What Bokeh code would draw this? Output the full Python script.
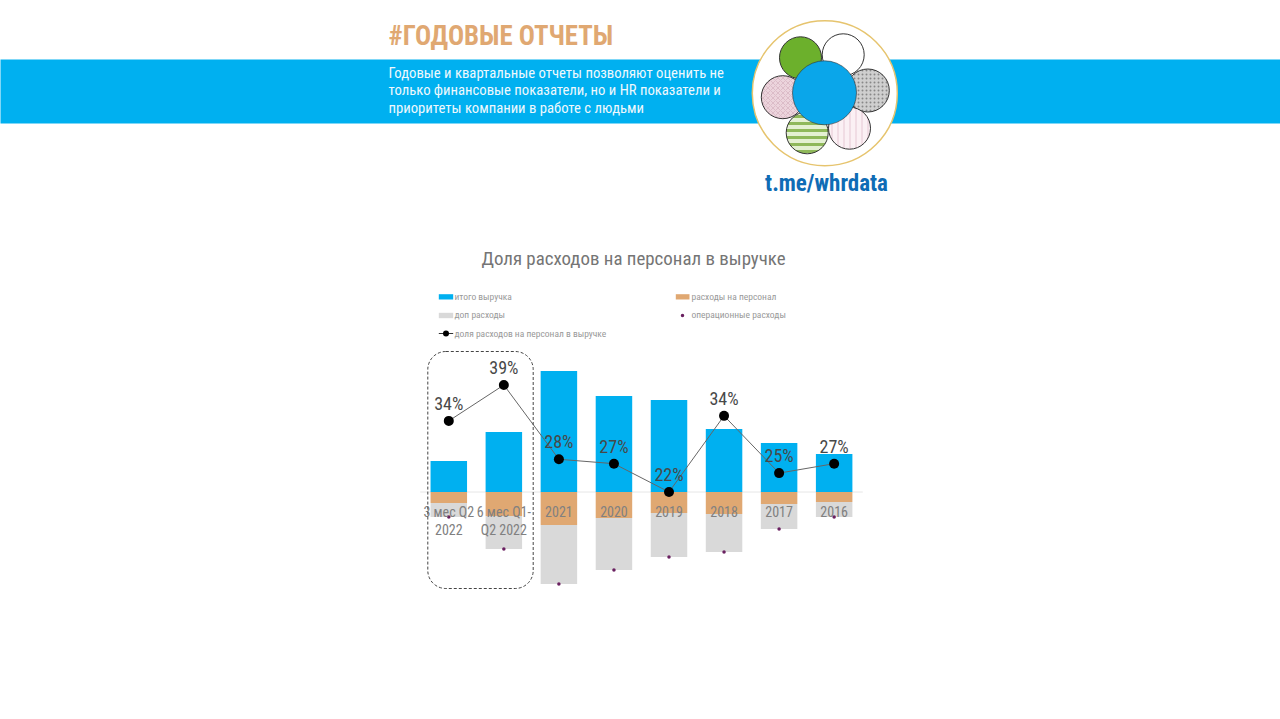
from bokeh.embed import file_html
from bokeh.models import BoxAnnotation, ColumnDataSource, Label, Range1d
from bokeh.plotting import figure
from bokeh.resources import INLINE

categories = ["3 мес Q2\n2022", "6 мес Q1-\nQ2 2022", "2021", "2020", "2019", "2018", "2017", "2016"]
revenue = [31, 60, 121, 96, 92, 63, 49, 38]
personnel = [11, 24, 33, 26, 21, 22, 12, 10]
operating = [25, 57, 92, 78, 65, 60, 37, 25]
share = [33.3, 39, 27.2, 26.5, 22, 34.1, 25, 26.5]
share_labels = ["34%", "39%", "28%", "27%", "22%", "34%", "25%", "27%"]

BLUE = "#00b0f0"
ORANGE = "#e0a872"
GRAY = "#d9d9d9"
PURPLE = "#6a2060"
NARROW = "Roboto Condensed"

W, H = 1280, 719
CX0, STEP = 448.3, 55.05  # reference pixel of first category and spacing
ZERO = 491.5              # reference pixel of the zero line
PCT_PX = 6.294            # pixels per percentage point
PCT0 = 22

p = figure(width=W, height=H, output_backend="svg", toolbar_location=None,
           x_range=Range1d(0, W), y_range=Range1d(H, 0),
           min_border=0, outline_line_color=None, background_fill_color="white",
           border_fill_color="white")
p.xaxis.visible = False
p.yaxis.visible = False
p.grid.visible = False

p.extra_x_ranges = {"cx": Range1d(-CX0 / STEP, (W - CX0) / STEP)}
p.extra_y_ranges = {
    "cy": Range1d(ZERO - H, ZERO),
    "py": Range1d(PCT0 - (H - ZERO) / PCT_PX, PCT0 + ZERO / PCT_PX),
}


def put(x, y, s, size, color, style="normal", align="left", **kw):
    p.add_layout(Label(x=x, y=y, text=s, text_font=NARROW, text_font_size=f"{size}px",
                       text_color=color, text_font_style=style, text_align=align,
                       text_baseline="middle", **kw))


# header band
p.quad(left=[-10], right=[W + 10], top=[59], bottom=[123], fill_color=BLUE, line_color=None)

# logo
p.circle(x=[824.3], y=[92.7], radius=72.5, fill_color="white", line_color="#e6c46e", line_width=1.5)
logo = dict(line_color="#333333", line_width=1)
p.circle(x=[800], y=[57.3], radius=21, fill_color="#6cb02c", **logo)
p.circle(x=[842.7], y=[54.3], radius=21, fill_color="white", **logo)
p.circle(x=[867.3], y=[90], radius=21.5, fill_color="#cfcfcf", hatch_pattern="dot",
         hatch_color="#888888", hatch_scale=4, hatch_weight=3, **logo)
p.circle(x=[849], y=[127.7], radius=21, fill_color="#fbf0f4", hatch_pattern="vertical_line",
         hatch_color="#e6c8d4", hatch_scale=6, **logo)
p.circle(x=[806.7], y=[132.3], radius=21, fill_color="#e4f0d2", hatch_pattern="horizontal_line",
         hatch_color="#8fb85a", hatch_scale=7, hatch_weight=3, **logo)
p.circle(x=[782.3], y=[96.7], radius=21.5, fill_color="#ecd4dc", hatch_pattern="diagonal_cross",
         hatch_color="#dcbcc8", hatch_scale=5, **logo)
p.circle(x=[824], y=[92.3], radius=32, fill_color="#0aa6ea", line_color="#333333", line_width=0.6)
put(826, 183, "t.me/whrdata", 23, "#0f6cb5", style="bold", align="center")

# header text
put(388, 35, "#ГОДОВЫЕ ОТЧЕТЫ", 26.8, ORANGE, style="bold")
put(388, 72, "Годовые и квартальные отчеты позволяют оценить не", 14.7, "#eef8fd")
put(388, 89.5, "только финансовые показатели, но и HR показатели и", 14.7, "#eef8fd")
put(388, 107, "приоритеты компании в работе с людьми", 14.7, "#eef8fd")

# chart title
put(633, 257.5, "Доля расходов на персонал в выручке", 18.9, "#757575", align="center")

# legend
leg = "#999999"
p.quad(left=[438.3], right=[452.7], top=[293.7], bottom=[299], fill_color=BLUE, line_color=None)
put(454, 295.6, "итого выручка", 9.5, leg)
p.quad(left=[675.3], right=[689], top=[293.7], bottom=[299], fill_color=ORANGE, line_color=None)
put(691, 295.6, "расходы на персонал", 9.5, leg)
p.quad(left=[438.3], right=[452.7], top=[312.3], bottom=[317.7], fill_color=GRAY, line_color=None)
put(454, 314, "доп расходы", 9.5, leg)
p.scatter(x=[682], y=[315], size=3.5, fill_color=PURPLE, line_color=None)
put(691, 314, "операционные расходы", 9.5, leg)
p.line(x=[438.3, 452.7], y=[333, 333], line_color="#333333", line_width=1)
p.scatter(x=[445.5], y=[333], size=6, fill_color="black", line_color=None)
put(454, 332.5, "доля расходов на персонал в выручке", 9.5, leg)

# chart
idx = list(range(len(categories)))
src = ColumnDataSource(dict(
    x=idx, revenue=revenue,
    pers_low=[-v for v in personnel], op_low=[-v for v in operating],
    share=share, zero=[0] * len(idx),
))
rng = dict(x_range_name="cx", y_range_name="cy")
bar_w = 36.5 / STEP
p.segment(x0=[-0.52], x1=[len(idx) - 0.48], y0=[0], y1=[0], line_color="#e6e6e6", line_width=1, **rng)
p.vbar(x="x", bottom="op_low", top="pers_low", width=bar_w, source=src, fill_color=GRAY, line_color=None, **rng)
p.vbar(x="x", bottom="pers_low", top="zero", width=bar_w, source=src, fill_color=ORANGE, line_color=None, **rng)
p.vbar(x="x", bottom="zero", top="revenue", width=bar_w, source=src, fill_color=BLUE, line_color=None, **rng)
p.scatter(x="x", y="op_low", size=3.5, source=src, fill_color=PURPLE, line_color=None, **rng)
for i, cat in enumerate(categories):
    for n, line in enumerate(cat.split("\n")):
        put(i, 0, line, 14, "#808080", align="center", y_offset=-(19.5 + 18 * n), **rng)

rng2 = dict(x_range_name="cx", y_range_name="py")
p.line(x="x", y="share", source=src, line_color="#666666", line_width=1, **rng2)
p.scatter(x="x", y="share", size=10, source=src, fill_color="black", line_color=None, **rng2)
for i, (v, lab) in enumerate(zip(share, share_labels)):
    put(i, v, lab, 18, "#484848", align="center", y_offset=17.5, **rng2)

# highlight box around the partial-year bars
p.add_layout(BoxAnnotation(left=427.3, right=532.7, top=351, bottom=588,
                           fill_alpha=0, line_color="#444444", line_alpha=1, line_dash=[3, 2], line_width=1,
                           border_radius=18))

open("out.html", "w").write(file_html(p, INLINE))
